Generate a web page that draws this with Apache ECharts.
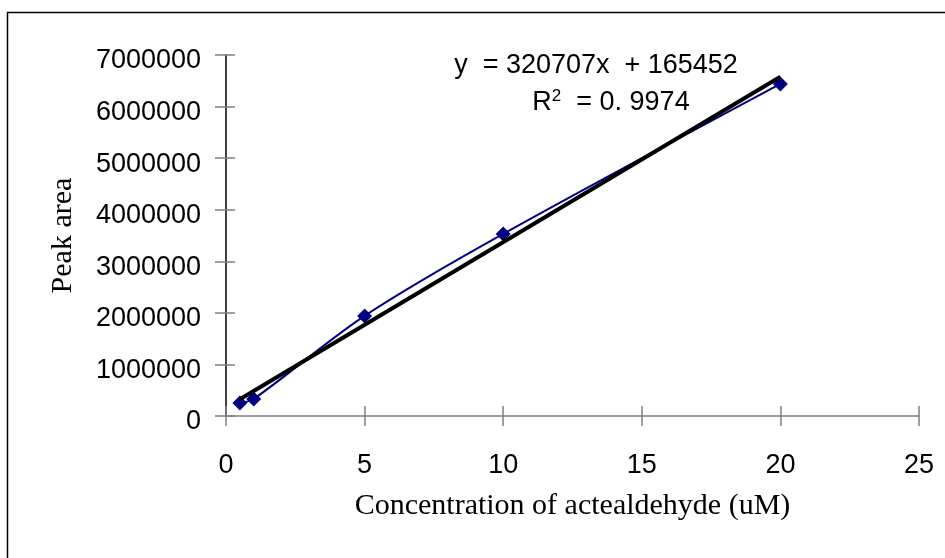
<!DOCTYPE html>
<html>
<head>
<meta charset="utf-8">
<script src="https://cdn.jsdelivr.net/npm/echarts@6/dist/echarts.min.js"></script>
<style>
  html, body { margin: 0; padding: 0; background: #fff; }
  #chart { width: 945px; height: 558px; }
</style>
</head>
<body>
<div id="chart"></div>
<script>
// measured points (concentration uM, peak area)
const concentration = [0.5, 1, 5, 10, 20];
const peakArea = [250000, 330000, 1940000, 3530000, 6440000];
// linear trendline ends as drawn
const trendX = [0.5, 20];
const trendY = [325800, 6580000];
const eqText = 'y  = 320707x  + 165452';
const r2Value = '0. 9974';

const sans = 'Liberation Sans';
const serif = 'Liberation Serif';

const chart = echarts.init(document.getElementById('chart'));

const xCommon = { type: 'value', min: 0, max: 25, interval: 5, gridIndex: 0 };
const yCommon = { type: 'value', min: 0, max: 7000000, interval: 1000000, gridIndex: 0 };
const hiddenLine = { show: true, lineStyle: { opacity: 0 } };

chart.setOption({
  animation: false,
  grid: { left: 226, right: 26, top: 55, bottom: 142 },
  xAxis: [
    Object.assign({}, xCommon, {
      position: 'bottom',
      axisLine: { lineStyle: { color: '#808080', width: 1.5 } },
      axisTick: { length: 10, lineStyle: { color: '#808080', width: 1.5 } },
      axisLabel: { color: '#000', fontFamily: sans, fontSize: 27, margin: 36 },
      splitLine: { show: false },
      name: 'Concentration of actealdehyde (uM)',
      nameLocation: 'middle',
      nameGap: 75,
      nameTextStyle: { color: '#000', fontFamily: serif, fontSize: 30 }
    }),
    Object.assign({}, xCommon, {
      position: 'bottom',
      offset: -10,
      axisLine: hiddenLine,
      axisTick: { length: 20, lineStyle: { color: '#808080', width: 1.5 } },
      axisLabel: { show: false },
      splitLine: { show: false }
    })
  ],
  yAxis: [
    Object.assign({}, yCommon, {
      position: 'left',
      axisLine: { lineStyle: { color: '#000', width: 1.5 } },
      axisTick: { length: 11, lineStyle: { color: '#808080', width: 1.5 } },
      axisLabel: {
        color: '#000', fontFamily: sans, fontSize: 27, margin: 25,
        verticalAlign: 'top', lineHeight: 12,
        formatter: v => String(v)
      },
      splitLine: { show: false },
      name: 'Peak area',
      nameLocation: 'middle',
      nameGap: 148,
      nameTextStyle: { color: '#000', fontFamily: serif, fontSize: 30 }
    }),
    Object.assign({}, yCommon, {
      position: 'left',
      offset: -9,
      axisLine: hiddenLine,
      axisTick: { length: 20, lineStyle: { color: '#808080', width: 1.5 } },
      axisLabel: { show: false },
      splitLine: { show: false }
    })
  ],
  series: [
    {
      type: 'line',
      data: concentration.map((c, i) => [c, peakArea[i]]),
      smooth: 0.3,
      symbol: 'diamond',
      symbolSize: 15,
      lineStyle: { color: '#000080', width: 2 },
      itemStyle: { color: '#000080' },
      z: 2
    },
    {
      type: 'line',
      data: trendX.map((c, i) => [c, trendY[i]]),
      symbol: 'none',
      lineStyle: { color: '#000', width: 4 },
      z: 3
    }
  ],
  graphic: [
    {
      type: 'polyline',
      shape: { points: [[7.5, 558], [7.5, 12.5], [945, 12.5]] },
      style: { stroke: '#000', lineWidth: 1.5, fill: 'none' }
    },
    {
      type: 'text',
      x: 596, y: 66,
      style: {
        text: eqText, fill: '#000', font: '27px ' + sans,
        textAlign: 'center', textVerticalAlign: 'middle'
      }
    },
    {
      type: 'text',
      x: 611, y: 103,
      style: {
        text: '{b|R}{s|2}{b|  = ' + r2Value + '}',
        textAlign: 'center', textVerticalAlign: 'middle',
        rich: {
          b: { fontFamily: sans, fontSize: 27, color: '#000' },
          s: { fontFamily: sans, fontSize: 17, color: '#000', verticalAlign: 'top', padding: [0, 0, 14, 0] }
        }
      }
    }
  ]
});
</script>
</body>
</html>
